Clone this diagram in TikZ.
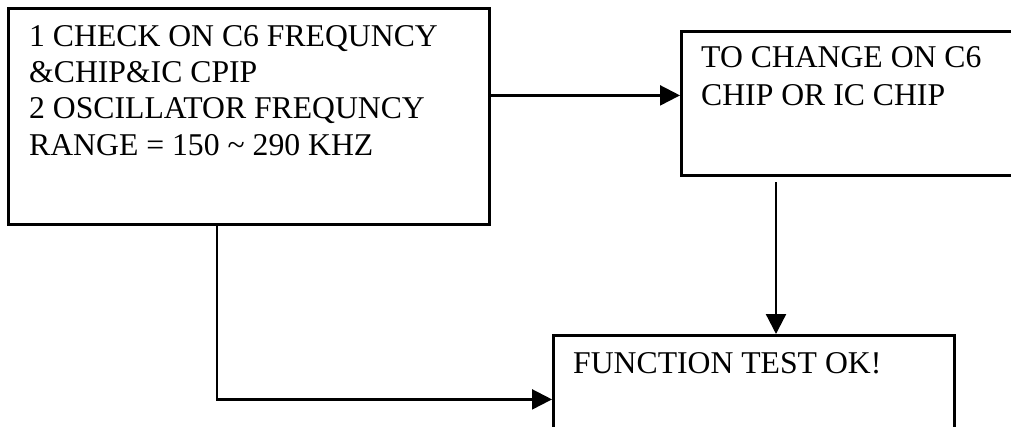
\documentclass[tikz,border=0pt]{standalone}
\usepackage{fontspec}
\setmainfont{Liberation Serif}
\usetikzlibrary{arrows.meta,calc}
\begin{document}
\begin{tikzpicture}[x=1pt,y=-1pt,
  boxshape/.style={draw=black,line width=2.8pt,rectangle,inner sep=0pt,anchor=north west},
  txt/.style={inner sep=0pt,anchor=base west,align=left,font=\fontsize{31.7}{36.2}\selectfont},
  arr/.style={draw=black,line width=2.3pt,-{Triangle[length=20pt,width=20pt]}}]
\useasboundingbox (0,0) rectangle (1011,426);
\clip (0,0) rectangle (1011,426);
\node[boxshape,minimum width=481pt,minimum height=216pt] (A) at (7,7) {};
\node[boxshape,minimum width=360pt,minimum height=144pt] (B) at (680,30) {};
\node[boxshape,minimum width=401pt,minimum height=128pt] (C) at (552,334) {};
\node[txt] (tA) at (29,155) {1 CHECK ON C6 FREQUNCY\\\&CHIP\&IC CPIP\\2 OSCILLATOR FREQUNCY\\RANGE = 150 \textasciitilde{} 290 KHZ};
\node[txt,font=\fontsize{31.7}{38}\selectfont] (tB) at (701,105) {TO CHANGE ON C6\\CHIP OR IC CHIP};
\node[txt] (tC) at (573,373) {FUNCTION TEST OK!};
\coordinate (bout) at (776,182);
\coordinate (aout) at (217,223);
\draw[arr] ([yshift=21pt]A.east) -- ([yshift=21pt]A.east -| B.west);
\draw[arr] (bout) -- (bout |- C.north);
\draw[arr] (aout) |- (C.west);
\end{tikzpicture}
\end{document}
